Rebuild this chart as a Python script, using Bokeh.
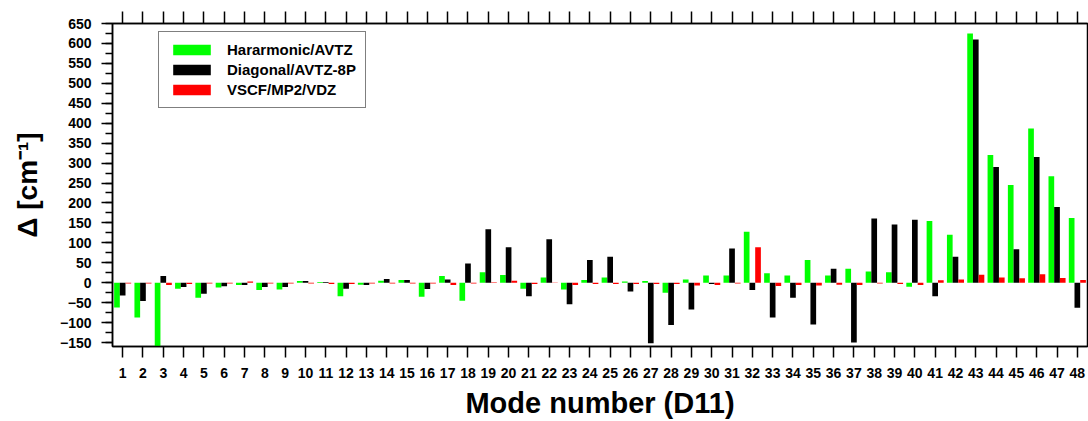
from bokeh.plotting import figure
from bokeh.models import (ColumnDataSource, Range1d, FixedTicker, SingleIntervalTicker,
                          LinearAxis, Legend, LegendItem, CustomLabelingPolicy)
from bokeh.transform import dodge
from bokeh.embed import file_html
from bokeh.resources import INLINE

# Frequency shifts (cm^-1) for the 48 normal modes of D11
modes = list(range(1, 49))
harmonic_avtz = [-62, -87, -165, -15, -38, -12, -6, -18, -17, 4,
                 2, -34, -5, 5, 7, -35, 17, -45, 26, 19,
                 -15, 13, -17, 7, 13, 3, 4, -25, 8, 18,
                 18, 128, 24, 18, 57, 18, 35, 28, 26, -10,
                 155, 120, 625, 320, 245, 387, 267, 162]
diagonal_avtz_8p = [-32, -46, 17, -11, -28, -9, -6, -11, -11, 4,
                    2, -15, -6, 9, 7, -16, 8, 48, 134, 89,
                    -34, 109, -54, 57, 65, -22, -152, -106, -67, -3,
                    86, -18, -87, -38, -105, 35, -150, 161, 146, 158,
                    -34, 65, 610, 290, 84, 315, 190, -63]
vscf_mp2_vdz = [-2, -2, -6, -3, -2, -2, 3, -2, -2, -2,
                -3, -3, -2, -2, -2, -2, -6, -2, 1, 5,
                -3, -1, -6, -3, -3, -3, -3, -3, -7, -6,
                -2, 89, -8, -6, -7, -5, -6, -2, -3, -6,
                6, 8, 20, 13, 11, 21, 12, 7]

series_names = ["Hararmonic/AVTZ", "Diagonal/AVTZ-8P", "VSCF/MP2/VDZ"]
series_colors = ["#00ff00", "#000000", "#ff0000"]

source = ColumnDataSource(data=dict(mode=modes, harm=harmonic_avtz,
                                    diag=diagonal_avtz_8p, vscf=vscf_mp2_vdz))

FONT = "Liberation Sans"

p = figure(width=1088, height=421, output_backend="svg", toolbar_location=None,
           x_range=Range1d(0.5, 48.5), y_range=Range1d(-160, 650),
           min_border_left=112, min_border_right=1, min_border_top=22,
           min_border_bottom=75, x_axis_type=None, y_axis_type=None)
p.grid.visible = False
p.outline_line_color = "black"
p.outline_line_width = 1.5
p.background_fill_color = "white"
p.border_fill_color = "white"

bar_w = 0.28
renderers = []
for col, off, color in zip(["harm", "diag", "vscf"], [-bar_w, 0.0, bar_w], series_colors):
    r = p.vbar(x=dodge("mode", off, range=p.x_range), top=col, bottom=0, width=bar_w,
               source=source, fill_color=color, line_color=None)
    renderers.append(r)

mode_ticker = FixedTicker(ticks=modes)

# bottom axis with mode numbers
xaxis = LinearAxis(ticker=mode_ticker, axis_label="Mode number (D11)")
xaxis.axis_line_width = 1.5
xaxis.major_tick_out = 11
xaxis.major_tick_in = 0
xaxis.major_tick_line_width = 1.5
xaxis.minor_tick_line_color = None
xaxis.major_label_standoff = 10
xaxis.major_label_text_font = FONT
xaxis.major_label_text_font_style = "bold"
xaxis.major_label_text_font_size = "14px"
xaxis.major_label_text_color = "black"
xaxis.axis_label_text_font = FONT
xaxis.axis_label_text_font_style = "bold"
xaxis.axis_label_text_font_size = "29px"
xaxis.axis_label_standoff = 6
xaxis.axis_label_text_color = "black"
p.add_layout(xaxis, "below")

# top axis: tick marks only, every label filtered out
taxis = LinearAxis(ticker=mode_ticker,
                   major_label_policy=CustomLabelingPolicy(code="return [];"))
taxis.axis_line_width = 1.5
taxis.major_tick_out = 12
taxis.major_tick_in = 0
taxis.major_tick_line_width = 1.5
taxis.minor_tick_line_color = None
taxis.major_label_standoff = 0
p.add_layout(taxis, "above")

# left axis
yaxis = LinearAxis(ticker=SingleIntervalTicker(interval=50, num_minor_ticks=2),
                   axis_label="Δ [cm⁻¹]")
yaxis.axis_line_width = 1.5
yaxis.major_tick_out = 11
yaxis.major_tick_in = 0
yaxis.minor_tick_out = 7
yaxis.minor_tick_in = 0
yaxis.major_tick_line_width = 1.5
yaxis.minor_tick_line_width = 1.5
yaxis.major_label_standoff = 10
yaxis.major_label_text_font = FONT
yaxis.major_label_text_font_style = "bold"
yaxis.major_label_text_font_size = "14px"
yaxis.major_label_text_color = "black"
yaxis.axis_label_text_font = FONT
yaxis.axis_label_text_font_style = "bold"
yaxis.axis_label_text_font_size = "28px"
yaxis.axis_label_standoff = 14
yaxis.axis_label_text_color = "black"
p.add_layout(yaxis, "left")

legend = Legend(items=[LegendItem(label=n, renderers=[r]) for n, r in zip(series_names, renderers)],
                location=(46, 238), orientation="vertical")
legend.glyph_width = 47
legend.glyph_height = 13
legend.label_height = 13
legend.label_standoff = 12
legend.spacing = 3
legend.padding = 9
legend.margin = 0
legend.label_text_font = FONT
legend.label_text_font_style = "bold"
legend.label_text_font_size = "15px"
legend.label_text_color = "black"
legend.border_line_color = "black"
legend.border_line_width = 1.2
legend.background_fill_color = "white"
legend.background_fill_alpha = 1.0
p.add_layout(legend, "center")

open("out.html", "w").write(file_html(p, INLINE))
